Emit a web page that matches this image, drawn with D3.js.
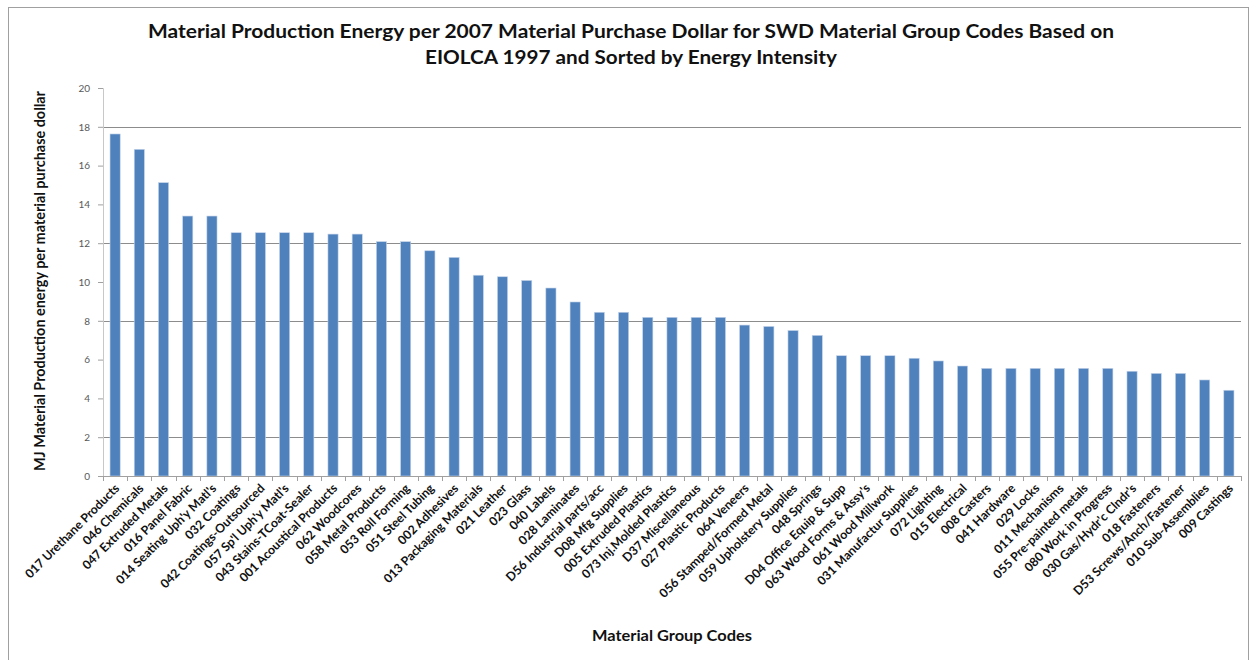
<!DOCTYPE html>
<html>
<head>
<meta charset="utf-8">
<script src="https://cdn.jsdelivr.net/npm/d3@7"></script>
<style>
  body { margin: 0; background: #fff; }
  svg text { font-family: Lato, "Open Sans", sans-serif; }
</style>
</head>
<body>
<div id="chart"></div>
<script>
// material group codes, sorted by energy intensity
var codes = [
  "017 Urethane Products", "046 Chemicals", "047 Extruded Metals", "016 Panel Fabric",
  "014 Seating Uph'y Matl's", "032 Coatings", "042 Coatings-Outsourced", "057 Sp'l Uph'y Matl's",
  "043 Stains-TCoat-Sealer", "001 Acoustical Products", "062 Woodcores", "058 Metal Products",
  "053 Roll Forming", "051 Steel Tubing", "002 Adhesives", "013 Packaging Materials",
  "021 Leather", "023 Glass", "040 Labels", "028 Laminates", "D56 Industrial parts/acc",
  "D08 Mfg Supplies", "005 Extruded Plastics", "073 Inj.Molded Plastics", "D37 Miscellaneous",
  "027 Plastic Products", "064 Veneers", "056 Stamped/Formed Metal", "059 Upholstery Supplies",
  "048 Springs", "D04 Office Equip & Supp", "063 Wood Forms & Assy's", "061 Wood Millwork",
  "031 Manufactur Supplies", "072 Lighting", "015 Electrical", "008 Casters", "041 Hardware",
  "029 Locks", "011 Mechanisms", "055 Pre-painted metals", "080 Work in Progress",
  "030 Gas/Hydr'c Clndr's", "018 Fasteners", "D53 Screws/Anch/Fastener", "010 Sub-Assemblies",
  "009 Castings"
];
// MJ per material purchase dollar
var energy = [
  17.63, 16.84, 15.12, 13.4, 13.4, 12.54, 12.54, 12.54,
  12.54, 12.47, 12.47, 12.08, 12.08, 11.61, 11.27, 10.35,
  10.27, 10.08, 9.69, 8.97, 8.44, 8.44, 8.18, 8.18, 8.18,
  8.18, 7.78, 7.71, 7.5, 7.25, 6.2, 6.2, 6.2,
  6.07, 5.93, 5.67, 5.55, 5.55, 5.55, 5.55, 5.55, 5.55,
  5.4, 5.29, 5.29, 4.95, 4.42
];
var yTicks = [0, 2, 4, 6, 8, 10, 12, 14, 16, 18, 20];
var gridTicks = [2, 8, 12, 18];
var titleLines = [
  "Material Production Energy per 2007 Material Purchase Dollar for SWD Material Group Codes Based on",
  "EIOLCA 1997 and Sorted by Energy Intensity"
];
var titleWidths = [966, 412];

var data = codes.map(function(c, i) { return {code: c, value: energy[i]}; });

var W = 1253, H = 660;
var margin = {top: 88, right: 10, bottom: 184, left: 103},
    width = 1241 - margin.left,
    height = H - margin.top - margin.bottom;

var svg = d3.select("#chart").append("svg")
    .attr("width", W)
    .attr("height", H);

// chart border
svg.append("rect")
    .attr("x", 8.5).attr("y", 7.5)
    .attr("width", 1240).attr("height", 660)
    .attr("fill", "none")
    .attr("stroke", "#a0a0a0")
    .attr("stroke-width", 1);

var g = svg.append("g")
    .attr("transform", "translate(" + margin.left + "," + margin.top + ")");

var x = d3.scaleBand().domain(codes).range([0, width]).paddingInner(0.58).paddingOuter(0.29);
var y = d3.scaleLinear().domain([0, 20]).range([height, 0]);

// gridlines
g.selectAll("line.grid")
    .data(gridTicks)
  .enter().append("line")
    .attr("class", "grid")
    .attr("x1", 0).attr("x2", width)
    .attr("y1", function(d) { return Math.round(y(d)) + 0.5; })
    .attr("y2", function(d) { return Math.round(y(d)) + 0.5; })
    .attr("stroke", "#8c8c8c")
    .attr("stroke-width", 1);

// bars
g.selectAll("rect.bar")
    .data(data)
  .enter().append("rect")
    .attr("class", "bar")
    .attr("x", function(d) { return x(d.code); })
    .attr("width", x.bandwidth())
    .attr("y", function(d) { return y(d.value); })
    .attr("height", function(d) { return height - y(d.value); })
    .attr("fill", "#4f81bd")
    .attr("stroke", "#c5d5ea")
    .attr("stroke-width", 0.6);

// y axis
var yAxis = d3.axisLeft(y).tickValues(yTicks).tickSize(5).tickPadding(8);
var ya = g.append("g").attr("class", "y axis").call(yAxis);
ya.select(".domain").attr("stroke", "#c8c8c8");
ya.selectAll(".tick line").attr("stroke", "#a0a0a0");
ya.selectAll(".tick text")
    .attr("fill", "#595959")
    .style("font-size", "10px");

// x axis: ticks between categories
var xa = g.append("g").attr("transform", "translate(0," + height + ")");
xa.append("line")
    .attr("x1", 0).attr("x2", width)
    .attr("y1", 0.5).attr("y2", 0.5)
    .attr("stroke", "#a0a0a0");
var step = x.step();
xa.selectAll("line.tk")
    .data(d3.range(codes.length + 1))
  .enter().append("line")
    .attr("class", "tk")
    .attr("x1", function(i) { return Math.round(i * step) + 0.5; })
    .attr("x2", function(i) { return Math.round(i * step) + 0.5; })
    .attr("y1", 0).attr("y2", 5)
    .attr("stroke", "#a0a0a0");

xa.selectAll("text.lbl")
    .data(data)
  .enter().append("text")
    .attr("class", "lbl")
    .attr("transform", function(d) {
      return "translate(" + (x(d.code) + x.bandwidth() / 2 + 2) + ",10) rotate(-45)";
    })
    .attr("text-anchor", "end")
    .attr("dy", "0.35em")
    .attr("fill", "#111")
    .style("font-size", "12.3px")
    .style("font-weight", "bold")
    .text(function(d) { return d.code; });

// title
svg.selectAll("text.title")
    .data(titleLines)
  .enter().append("text")
    .attr("class", "title")
    .attr("x", 631)
    .attr("y", function(d, i) { return 38 + i * 26; })
    .attr("text-anchor", "middle")
    .attr("textLength", function(d, i) { return titleWidths[i]; })
    .attr("lengthAdjust", "spacingAndGlyphs")
    .attr("fill", "#111")
    .style("font-size", "19.5px")
    .style("font-weight", "bold")
    .text(function(d) { return d; });

// axis titles
svg.append("text")
    .attr("transform", "translate(45," + 281 + ") rotate(-90)")
    .attr("text-anchor", "middle")
    .attr("textLength", 380)
    .attr("lengthAdjust", "spacingAndGlyphs")
    .attr("fill", "#111")
    .style("font-size", "14.5px")
    .style("font-weight", "bold")
    .text("MJ Material Production energy per material purchase dollar");

svg.append("text")
    .attr("x", 672)
    .attr("y", 641)
    .attr("text-anchor", "middle")
    .attr("textLength", 160)
    .attr("lengthAdjust", "spacingAndGlyphs")
    .attr("fill", "#111")
    .style("font-size", "15px")
    .style("font-weight", "bold")
    .text("Material Group Codes");
</script>
</body>
</html>
